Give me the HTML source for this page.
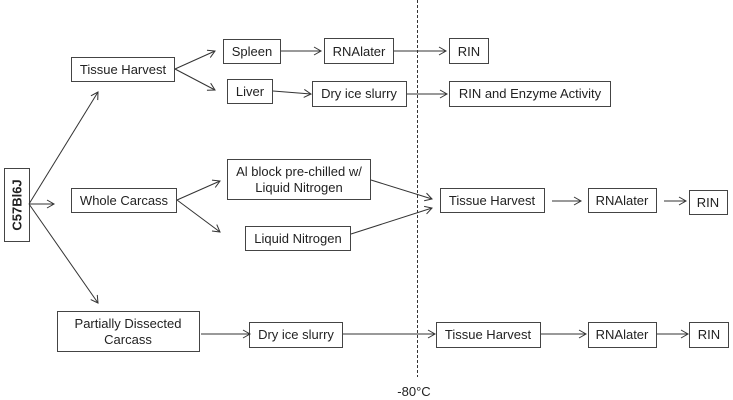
<!DOCTYPE html>
<html><head><meta charset="utf-8"><style>
html,body{margin:0;padding:0;background:#fff;}
svg{display:block;}
text{font-family:"Liberation Sans",sans-serif;font-size:13px;fill:#222;}
</style></head><body>
<svg width="733" height="400" viewBox="0 0 733 400" xmlns="http://www.w3.org/2000/svg">
<defs>
<marker id="a" markerWidth="10" markerHeight="10" refX="8" refY="5" orient="auto" markerUnits="userSpaceOnUse">
<path d="M1,1 L8,5 L1,9" fill="none" stroke="#333" stroke-width="1"/>
</marker>
</defs>
<g fill="#fff" stroke="#444" stroke-width="1">
<rect x="4.5" y="168.5" width="25" height="73"/>
<rect x="71.5" y="57.5" width="103" height="24"/>
<rect x="223.5" y="39.5" width="57" height="24"/>
<rect x="324.5" y="38.5" width="69" height="25"/>
<rect x="449.5" y="38.5" width="39" height="25"/>
<rect x="227.5" y="79.5" width="45" height="24"/>
<rect x="312.5" y="81.5" width="94" height="25"/>
<rect x="449.5" y="81.5" width="161" height="25"/>
<rect x="227.5" y="159.5" width="143" height="40"/>
<rect x="71.5" y="188.5" width="105" height="24"/>
<rect x="245.5" y="226.5" width="105" height="24"/>
<rect x="440.5" y="188.5" width="104" height="24"/>
<rect x="588.5" y="188.5" width="68" height="24"/>
<rect x="689.5" y="190.5" width="38" height="24"/>
<rect x="57.5" y="311.5" width="142" height="40"/>
<rect x="249.5" y="322.5" width="93" height="25"/>
<rect x="436.5" y="322.5" width="104" height="25"/>
<rect x="588.5" y="322.5" width="68" height="25"/>
<rect x="689.5" y="322.5" width="39" height="25"/>
</g>
<line x1="417.5" y1="0" x2="417.5" y2="377" stroke="#333" stroke-width="1" stroke-dasharray="3,2"/>
<g stroke="#333" stroke-width="1" fill="none" marker-end="url(#a)">
<line x1="29" y1="204" x2="98" y2="92"/>
<line x1="29" y1="204" x2="54" y2="204"/>
<line x1="29" y1="204" x2="98" y2="303"/>
<line x1="175" y1="69" x2="215" y2="51"/>
<line x1="175" y1="69" x2="215" y2="90"/>
<line x1="281" y1="51" x2="321" y2="51"/>
<line x1="394" y1="51" x2="446" y2="51"/>
<line x1="273" y1="91" x2="311" y2="94"/>
<line x1="407" y1="94" x2="447" y2="94"/>
<line x1="177" y1="200" x2="220" y2="181"/>
<line x1="177" y1="200" x2="220" y2="232"/>
<line x1="371" y1="180" x2="432" y2="199"/>
<line x1="351" y1="234" x2="432" y2="208"/>
<line x1="552" y1="201" x2="581" y2="201"/>
<line x1="664" y1="201" x2="686" y2="201"/>
<line x1="201" y1="334" x2="250" y2="334"/>
<line x1="343" y1="334" x2="435" y2="334"/>
<line x1="541" y1="334" x2="586" y2="334"/>
<line x1="657" y1="334" x2="688" y2="334"/>
</g>
<text x="17" y="205" text-anchor="middle" dominant-baseline="central" transform="rotate(-90 17 205)" style="font-weight:bold">C57Bl6J</text>
<text x="123" y="74" text-anchor="middle">Tissue Harvest</text>
<text x="252" y="56" text-anchor="middle">Spleen</text>
<text x="359" y="56" text-anchor="middle">RNAlater</text>
<text x="469" y="56" text-anchor="middle">RIN</text>
<text x="250" y="96" text-anchor="middle">Liver</text>
<text x="359" y="98" text-anchor="middle">Dry ice slurry</text>
<text x="530" y="98" text-anchor="middle">RIN and Enzyme Activity</text>
<text x="299" y="176" text-anchor="middle">Al block pre-chilled w/</text>
<text x="299" y="192" text-anchor="middle">Liquid Nitrogen</text>
<text x="124" y="205" text-anchor="middle">Whole Carcass</text>
<text x="298" y="243" text-anchor="middle">Liquid Nitrogen</text>
<text x="492" y="205" text-anchor="middle">Tissue Harvest</text>
<text x="622" y="205" text-anchor="middle">RNAlater</text>
<text x="708" y="207" text-anchor="middle">RIN</text>
<text x="128" y="328" text-anchor="middle">Partially Dissected</text>
<text x="128" y="344" text-anchor="middle">Carcass</text>
<text x="296" y="339" text-anchor="middle">Dry ice slurry</text>
<text x="488" y="339" text-anchor="middle">Tissue Harvest</text>
<text x="622" y="339" text-anchor="middle">RNAlater</text>
<text x="709" y="339" text-anchor="middle">RIN</text>
<text x="414" y="396" text-anchor="middle">-80°C</text>
</svg>
</body></html>
